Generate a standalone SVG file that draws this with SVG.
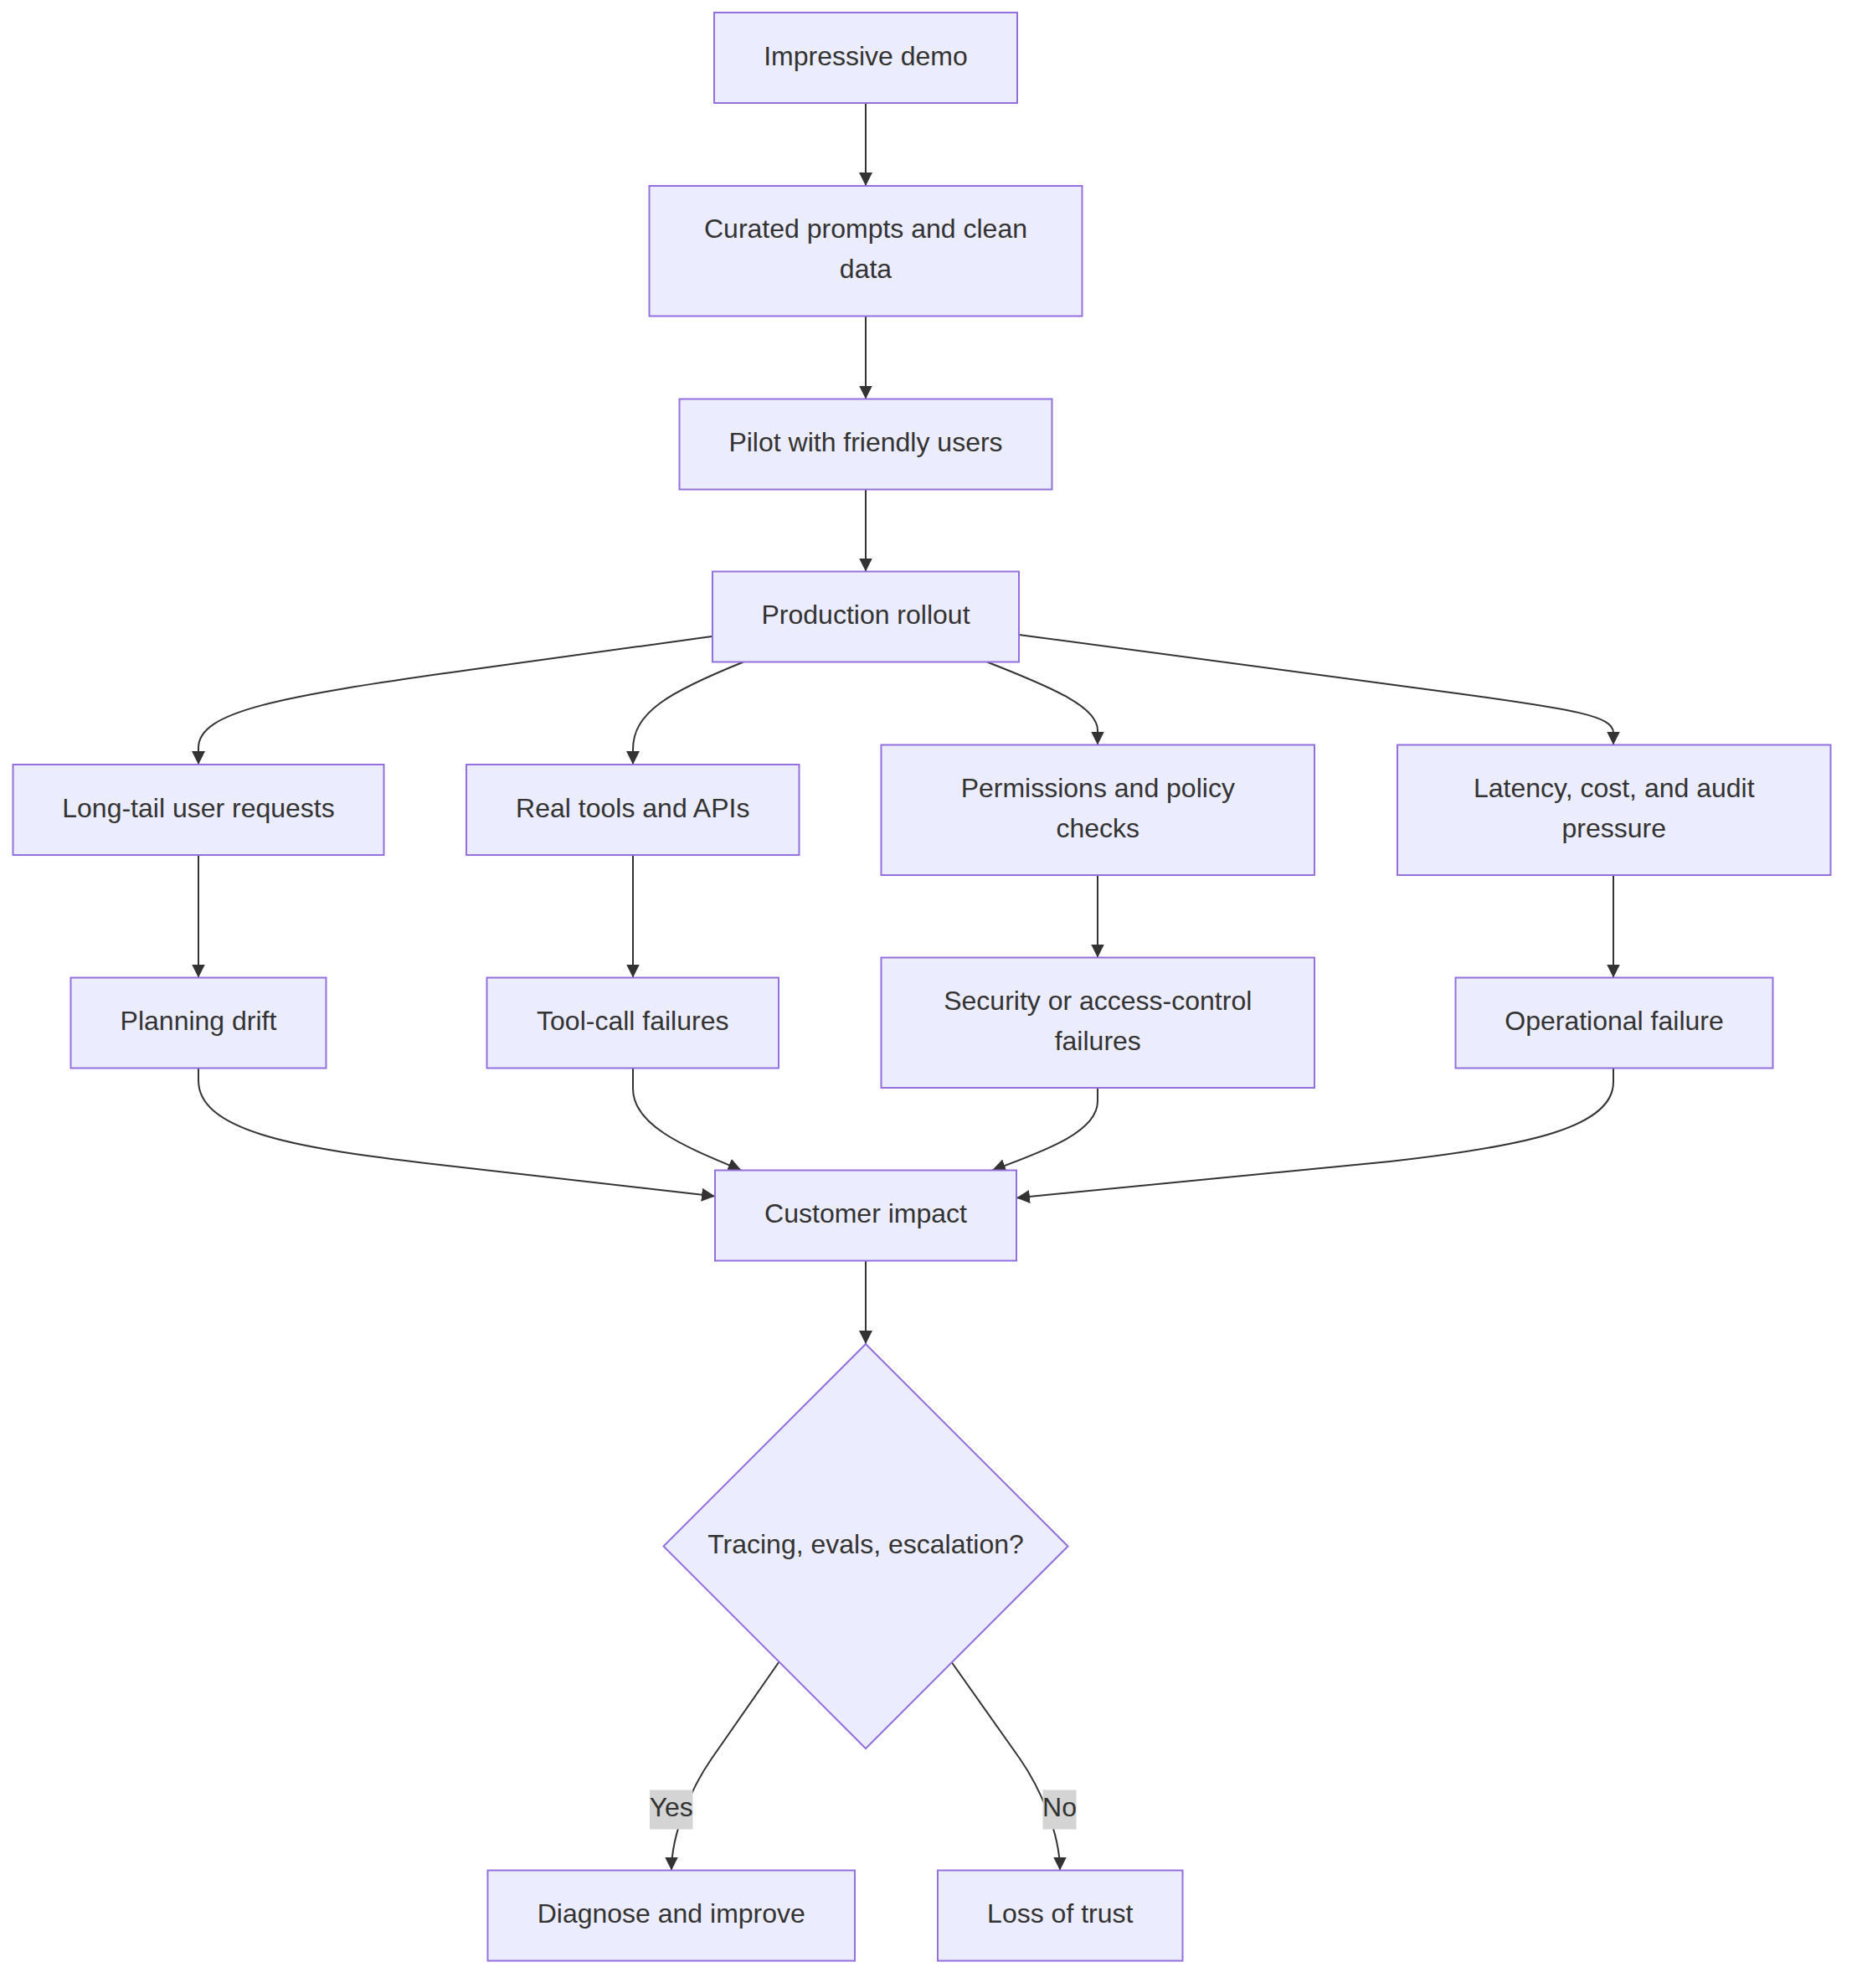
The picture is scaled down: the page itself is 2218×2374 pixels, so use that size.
<svg xmlns="http://www.w3.org/2000/svg" width="2218" height="2374" viewBox="0 0 2218 2374">
<style>
.node rect, .node polygon { fill: #ECECFF; stroke: #9370DB; stroke-width: 2; }
.node text, .lbl text { font-family: "Liberation Sans", Arial, sans-serif; font-size: 32px; fill: #333333; text-anchor: middle; }
.edges path { fill: none; stroke: #333333; stroke-width: 2; marker-end: url(#arrow); }
.lbl rect { fill: #d4d4d4; }
</style>
<defs>
<marker id="arrow" viewBox="0 0 10 10" refX="10" refY="5" markerUnits="userSpaceOnUse" markerWidth="16" markerHeight="16" orient="auto">
<path d="M0,0 L10,5 L0,10 z" fill="#333333"/>
</marker>
</defs>
<rect width="2218" height="2374" fill="#ffffff"/>
<g class="edges" id="edges">
<path d="M1034,123 L1034,222"/>
<path d="M1034,377.5 L1034,476.5"/>
<path d="M1034,584.5 L1034,682.5"/>
<path d="M850,760 L560,800 C330,832 237,850 237,893 L237,913"/>
<path d="M888,790.5 C800,826 756,850 756,895 L756,913"/>
<path d="M1179,790.5 C1262,823 1311,845 1311,872 L1311,889.5"/>
<path d="M1217,758 L1740,828 C1880,847 1927,855 1927,875 L1927,889.5"/>
<path d="M237,1021 L237,1167.5"/>
<path d="M756,1021 L756,1167.5"/>
<path d="M1311,1045 L1311,1143.5"/>
<path d="M1927,1045 L1927,1167.5"/>
<path d="M237,1275.5 L237,1290 C237,1350 350,1370 500,1388 L854,1428.5"/>
<path d="M756,1275.5 L756,1300 C756,1345 820,1370 885.5,1397.5"/>
<path d="M1311,1299 L1311,1315 C1311,1350 1255,1372 1185,1397.5"/>
<path d="M1927,1275.5 L1927,1292 C1927,1345 1830,1368 1660,1387 L1214,1430.5"/>
<path d="M1034,1505.5 L1034,1605"/>
<path d="M930.5,1984.5 L850,2100 C825,2136 802,2190 802,2233.5"/>
<path d="M1137,1985.5 L1218,2100 C1243,2136 1266,2190 1266,2233.5"/>
</g>
<g class="lbl" id="label-yes">
<rect x="776" y="2137.5" width="51.5" height="47"/>
<text x="801.75" y="2169">Yes</text>
</g>
<g class="lbl" id="label-no">
<rect x="1245.5" y="2137.5" width="40" height="47"/>
<text x="1265.5" y="2169">No</text>
</g>
<g class="node" id="n1"><rect x="853" y="15" width="362" height="108"/><text x="1034" y="77.5">Impressive demo</text></g>
<g class="node" id="n2"><rect x="775.5" y="222" width="517" height="155.5"/><text x="1034" y="284">Curated prompts and clean</text><text x="1034" y="332">data</text></g>
<g class="node" id="n3"><rect x="811.5" y="476.5" width="445" height="108"/><text x="1034" y="539">Pilot with friendly users</text></g>
<g class="node" id="n4"><rect x="851" y="682.5" width="366" height="108"/><text x="1034" y="745">Production rollout</text></g>
<g class="node" id="n5"><rect x="15.5" y="913" width="443" height="108"/><text x="237" y="975.5">Long-tail user requests</text></g>
<g class="node" id="n6"><rect x="557" y="913" width="397.5" height="108"/><text x="755.75" y="975.5">Real tools and APIs</text></g>
<g class="node" id="n7"><rect x="1052.5" y="889.5" width="517.5" height="155.5"/><text x="1311.25" y="951.5">Permissions and policy</text><text x="1311.25" y="999.5">checks</text></g>
<g class="node" id="n8"><rect x="1669" y="889.5" width="517.5" height="155.5"/><text x="1927.75" y="951.5">Latency, cost, and audit</text><text x="1927.75" y="999.5">pressure</text></g>
<g class="node" id="n9"><rect x="84.5" y="1167.5" width="305" height="108"/><text x="237" y="1230">Planning drift</text></g>
<g class="node" id="n10"><rect x="581.5" y="1167.5" width="348.5" height="108"/><text x="755.75" y="1230">Tool-call failures</text></g>
<g class="node" id="n11"><rect x="1052.5" y="1143.5" width="517.5" height="155.5"/><text x="1311.25" y="1205.5">Security or access-control</text><text x="1311.25" y="1253.5">failures</text></g>
<g class="node" id="n12"><rect x="1738.5" y="1167.5" width="379" height="108"/><text x="1928" y="1230">Operational failure</text></g>
<g class="node" id="n13"><rect x="854" y="1397.5" width="360" height="108"/><text x="1034" y="1460">Customer impact</text></g>
<g class="node" id="n14"><polygon points="1034,1605 1275.5,1846.5 1034,2088 792.5,1846.5"/><text x="1034" y="1855">Tracing, evals, escalation?</text></g>
<g class="node" id="n15"><rect x="582.5" y="2233.5" width="438.5" height="108"/><text x="801.75" y="2296">Diagnose and improve</text></g>
<g class="node" id="n16"><rect x="1120" y="2233.5" width="292.5" height="108"/><text x="1266.25" y="2296">Loss of trust</text></g>
</svg>
